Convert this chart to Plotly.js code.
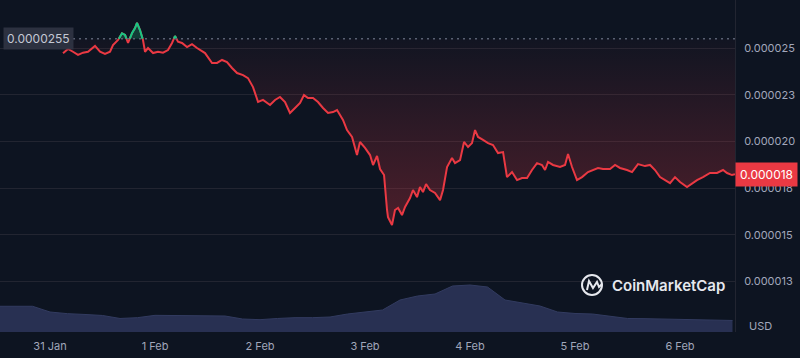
<!DOCTYPE html>
<html><head><meta charset="utf-8">
<script src="https://cdn.plot.ly/plotly-3.0.1.min.js"></script>
<style>html,body{margin:0;padding:0;background:#0d1421;}#chart{width:800px;height:358px;}</style>
</head><body><div id="chart"></div>
<script>
const priceTimes = [
'2024-01-31 02:58','2024-01-31 03:26','2024-01-31 04:07','2024-01-31 05:15','2024-01-31 06:24','2024-01-31 07:33','2024-01-31 08:41','2024-01-31 10:17','2024-01-31 11:26','2024-01-31 12:34',
'2024-01-31 13:43','2024-01-31 14:24','2024-01-31 15:33','2024-01-31 16:27','2024-01-31 17:09','2024-01-31 17:50','2024-01-31 18:45','2024-01-31 19:26','2024-01-31 19:53','2024-01-31 20:34',
'2024-01-31 21:15','2024-01-31 21:43','2024-01-31 22:24','2024-01-31 23:33','2024-02-01 00:41','2024-02-01 01:50','2024-02-01 02:58','2024-02-01 03:53','2024-02-01 04:34','2024-02-01 05:15',
'2024-02-01 06:10','2024-02-01 07:19','2024-02-01 08:27','2024-02-01 09:36','2024-02-01 10:17','2024-02-01 11:26','2024-02-01 13:02','2024-02-01 14:10','2024-02-01 15:19','2024-02-01 16:27',
'2024-02-01 17:36','2024-02-01 18:45','2024-02-01 20:07','2024-02-01 21:15','2024-02-01 22:24','2024-02-01 23:33','2024-02-02 00:41','2024-02-02 02:17','2024-02-02 03:26','2024-02-02 04:34',
'2024-02-02 05:43','2024-02-02 06:51','2024-02-02 08:00','2024-02-02 09:09','2024-02-02 10:03','2024-02-02 10:58','2024-02-02 12:07','2024-02-02 13:15','2024-02-02 14:24','2024-02-02 15:33',
'2024-02-02 16:41','2024-02-02 17:36','2024-02-02 18:17','2024-02-02 18:58','2024-02-02 19:53','2024-02-02 21:02','2024-02-02 22:10','2024-02-02 22:51','2024-02-03 00:00','2024-02-03 01:09',
'2024-02-03 01:50','2024-02-03 02:45','2024-02-03 03:26','2024-02-03 04:21','2024-02-03 05:02','2024-02-03 05:15','2024-02-03 06:10','2024-02-03 06:51','2024-02-03 07:33','2024-02-03 08:27',
'2024-02-03 09:09','2024-02-03 10:17','2024-02-03 10:58','2024-02-03 11:53','2024-02-03 12:34','2024-02-03 13:15','2024-02-03 13:57','2024-02-03 14:51','2024-02-03 16:00','2024-02-03 17:09',
'2024-02-03 17:50','2024-02-03 18:45','2024-02-03 19:53','2024-02-03 20:34','2024-02-03 21:43','2024-02-03 22:38','2024-02-03 23:33','2024-02-04 00:27','2024-02-04 01:09','2024-02-04 01:50',
'2024-02-04 02:58','2024-02-04 04:07','2024-02-04 05:15','2024-02-04 06:24','2024-02-04 07:33','2024-02-04 08:27','2024-02-04 09:36','2024-02-04 10:45','2024-02-04 11:53','2024-02-04 13:02',
'2024-02-04 14:10','2024-02-04 15:19','2024-02-04 16:27','2024-02-04 17:09','2024-02-04 17:50','2024-02-04 18:58','2024-02-04 20:34','2024-02-04 21:43','2024-02-04 22:24','2024-02-04 23:19',
'2024-02-05 00:27','2024-02-05 01:36','2024-02-05 02:58','2024-02-05 04:07','2024-02-05 05:15','2024-02-05 06:24','2024-02-05 08:00','2024-02-05 09:09','2024-02-05 10:17','2024-02-05 11:53',
'2024-02-05 13:02','2024-02-05 14:24','2024-02-05 16:00','2024-02-05 17:09','2024-02-05 18:17','2024-02-05 19:26','2024-02-05 20:34','2024-02-05 21:43','2024-02-05 22:51','2024-02-06 00:00',
'2024-02-06 01:36','2024-02-06 02:45','2024-02-06 03:53','2024-02-06 05:15','2024-02-06 06:51','2024-02-06 08:27','2024-02-06 09:50','2024-02-06 10:45','2024-02-06 11:53','2024-02-06 12:34'
];
const priceValues = [
24.72e-6,24.80e-6,24.95e-6,24.80e-6,24.63e-6,24.75e-6,24.80e-6,25.11e-6,24.80e-6,24.68e-6,
24.80e-6,25.16e-6,25.43e-6,25.79e-6,25.70e-6,25.27e-6,25.80e-6,26.07e-6,26.35e-6,25.96e-6,
25.43e-6,24.80e-6,25.00e-6,24.73e-6,24.80e-6,24.75e-6,24.89e-6,25.27e-6,25.64e-6,25.34e-6,
25.27e-6,25.05e-6,25.21e-6,25.00e-6,24.89e-6,24.73e-6,24.20e-6,24.20e-6,24.36e-6,24.25e-6,
23.93e-6,23.66e-6,23.55e-6,23.39e-6,22.91e-6,22.11e-6,22.22e-6,21.95e-6,22.22e-6,22.38e-6,
22.11e-6,21.52e-6,21.79e-6,22.06e-6,22.48e-6,22.32e-6,22.32e-6,22.11e-6,21.79e-6,21.52e-6,
21.57e-6,21.68e-6,21.41e-6,21.15e-6,20.61e-6,20.24e-6,19.27e-6,19.97e-6,19.65e-6,19.27e-6,
18.74e-6,19.22e-6,18.52e-6,18.20e-6,16.33e-6,15.95e-6,15.53e-6,16.33e-6,16.44e-6,16.06e-6,
16.49e-6,16.97e-6,17.40e-6,17.02e-6,17.56e-6,17.29e-6,17.72e-6,17.40e-6,17.24e-6,16.86e-6,
17.40e-6,18.63e-6,19.11e-6,18.84e-6,19.00e-6,19.97e-6,19.70e-6,19.91e-6,20.61e-6,20.24e-6,
20.08e-6,19.91e-6,19.81e-6,19.38e-6,19.43e-6,18.09e-6,18.36e-6,17.93e-6,18.04e-6,18.04e-6,
18.47e-6,18.84e-6,18.74e-6,18.47e-6,18.90e-6,18.74e-6,18.63e-6,18.74e-6,19.33e-6,18.63e-6,
17.93e-6,18.09e-6,18.36e-6,18.47e-6,18.58e-6,18.52e-6,18.52e-6,18.74e-6,18.58e-6,18.47e-6,
18.36e-6,18.79e-6,18.68e-6,18.74e-6,18.47e-6,18.09e-6,17.93e-6,17.77e-6,18.09e-6,17.83e-6,
17.56e-6,17.77e-6,17.93e-6,18.09e-6,18.31e-6,18.31e-6,18.47e-6,18.31e-6,18.20e-6,18.25e-6
];
const volumeTimes = [
'2024-01-30 12:00','2024-01-30 16:00','2024-01-30 20:00','2024-01-31 00:00','2024-01-31 04:00','2024-01-31 08:00','2024-01-31 12:00','2024-01-31 16:00','2024-01-31 20:00',
'2024-02-01 00:00','2024-02-01 04:00','2024-02-01 08:00','2024-02-01 12:00','2024-02-01 16:00','2024-02-01 20:00',
'2024-02-02 00:00','2024-02-02 04:00','2024-02-02 08:00','2024-02-02 12:00','2024-02-02 16:00','2024-02-02 20:00',
'2024-02-03 00:00','2024-02-03 04:00','2024-02-03 08:00','2024-02-03 12:00','2024-02-03 16:00','2024-02-03 20:00',
'2024-02-04 00:00','2024-02-04 04:00','2024-02-04 08:00','2024-02-04 12:00','2024-02-04 16:00','2024-02-04 20:00',
'2024-02-05 00:00','2024-02-05 04:00','2024-02-05 08:00','2024-02-05 12:00','2024-02-05 16:00','2024-02-05 20:00',
'2024-02-06 00:00','2024-02-06 04:00','2024-02-06 08:00','2024-02-06 12:00'
];
const volumeValues = [
386,386,386,300,275,263,248,203,215,
250,250,250,250,240,195,
185,203,215,215,225,270,
300,330,480,540,570,690,
705,675,480,435,390,300,
278,270,240,203,200,195,
180,176,173,173
];
const refPrice = 25.5e-6;
const refLabel = '0.0000255';
const lastPriceLabel = '0.000018';
const yTickVals = [12.5e-6, 15e-6, 17.5e-6, 20e-6, 22.5e-6, 25e-6];
const yTickText = ['0.000013','0.000015','0.000018','0.000020','0.000023','0.000025'];
const xTickVals = ['2024-01-31','2024-02-01','2024-02-02','2024-02-03','2024-02-04','2024-02-05','2024-02-06'];
const xTickText = ['31 Jan','1 Feb','2 Feb','3 Feb','4 Feb','5 Feb','6 Feb'];

const RED = '#ea3943', GREEN = '#16c784', BG = '#0d1421', GRID = '#222531', TXT = '#a1a7bb';

// times in ms (UTC) for computing the green (above reference) segments
const tms = priceTimes.map(t => Date.parse(t.replace(' ', 'T') + ':00Z'));
const gx = [], gy = [];
for (let i = 0; i < priceValues.length; i++) {
  const a = priceValues[i];
  const aUp = a >= refPrice;
  if (aUp) { gx.push(tms[i]); gy.push(a); }
  if (i < priceValues.length - 1) {
    const b = priceValues[i + 1];
    const bUp = b >= refPrice;
    if (aUp !== bUp) {
      const f = (refPrice - a) / (b - a);
      gx.push(tms[i] + f * (tms[i + 1] - tms[i])); gy.push(refPrice);
      if (aUp) { gx.push(null); gy.push(null); }
    }
  }
}

const traces = [
  { x: tms, y: tms.map(() => refPrice), type: 'scatter', mode: 'lines', line: { width: 0 }, hoverinfo: 'skip', xaxis: 'x', yaxis: 'y' },
  { x: tms, y: priceValues, type: 'scatter', mode: 'lines', fill: 'tonexty',
    fillgradient: { type: 'vertical', start: 15.0e-6, stop: 25.5e-6,
      colorscale: [[0, 'rgba(234,57,67,0.30)'], [1, 'rgba(234,57,67,0.02)']] },
    line: { color: RED, width: 2 }, xaxis: 'x', yaxis: 'y' },
  { x: gx, y: gy, type: 'scatter', mode: 'lines', fill: 'toself', fillcolor: 'rgba(22,199,132,0.22)',
    line: { color: GREEN, width: 2 }, xaxis: 'x', yaxis: 'y' },
  { x: volumeTimes, y: volumeValues, type: 'scatter', mode: 'lines', fill: 'tozeroy',
    fillcolor: '#283052', line: { color: '#323b60', width: 1 }, xaxis: 'x', yaxis: 'y2' }
];

const fontFam = 'Inter, "Open Sans", sans-serif';
const layout = {
  width: 800, height: 358,
  paper_bgcolor: BG, plot_bgcolor: BG,
  margin: { l: 0, r: 65, t: 0, b: 26 },
  showlegend: false,
  font: { family: fontFam, color: TXT, size: 11 },
  xaxis: { type: 'date', range: ['2024-01-30 12:34', '2024-02-06 12:34'],
    tickvals: xTickVals, ticktext: xTickText, showgrid: false, zeroline: false, showline: false,
    ticks: '', ticklabelstandoff: 6, tickfont: { family: fontFam, size: 11, color: TXT } },
  yaxis: { side: 'right', range: [9.80e-6, 27.57e-6], tickvals: yTickVals, ticktext: yTickText,
    showgrid: true, gridcolor: GRID, gridwidth: 1, zeroline: false, showline: true, linecolor: GRID,
    ticks: '', ticklabelstandoff: 6, tickfont: { family: fontFam, size: 11, color: TXT } },
  yaxis2: { overlaying: 'y', range: [0, 4980], visible: false, showgrid: false },
  shapes: [
    { type: 'line', xref: 'paper', yref: 'y', x0: 67 / 735, x1: 1, y0: refPrice, y1: refPrice,
      line: { color: '#596072', width: 1.5, dash: '2px,4px' } },
    { type: 'circle', xref: 'paper', yref: 'paper', xsizemode: 'pixel', ysizemode: 'pixel',
      xanchor: 592 / 735, yanchor: 47 / 332, x0: -10, x1: 10, y0: -10, y1: 10,
      line: { color: '#e6e8ee', width: 2 } },
    { type: 'path', xref: 'paper', yref: 'paper', xsizemode: 'pixel', ysizemode: 'pixel',
      xanchor: 592 / 735, yanchor: 47 / 332, path: 'M -5 -5 L -3 4 L 1 -3 L 5 3 L 7 -2 L 10 1',
      line: { color: '#e6e8ee', width: 2 } }
  ],
  annotations: [
    { xref: 'paper', yref: 'y', x: 0.004, y: refPrice, xanchor: 'left', yanchor: 'middle',
      text: refLabel, showarrow: false, bgcolor: 'rgba(48,52,68,0.9)', borderpad: 3,
      font: { family: fontFam, size: 12, color: '#c4c8d4' } },
    { xref: 'paper', yref: 'y', x: 1, y: priceValues[priceValues.length - 1], xanchor: 'left', yanchor: 'middle',
      text: lastPriceLabel, showarrow: false, bgcolor: RED, borderpad: 4,
      font: { family: fontFam, size: 12, color: '#ffffff' } },
    { xref: 'paper', yref: 'paper', x: 1, xshift: 12, y: 6 / 332, xanchor: 'left', yanchor: 'middle',
      text: 'USD', showarrow: false, font: { family: fontFam, size: 11, color: TXT } },
    { xref: 'paper', yref: 'paper', x: 610 / 735, y: 47 / 332, xanchor: 'left', yanchor: 'middle',
      text: 'CoinMarketCap', showarrow: false, font: { family: fontFam, size: 15, color: '#e6e8ee', weight: 600 } }
  ]
};

Plotly.newPlot('chart', traces, layout, { displayModeBar: false, staticPlot: true });
</script>
</body></html>
